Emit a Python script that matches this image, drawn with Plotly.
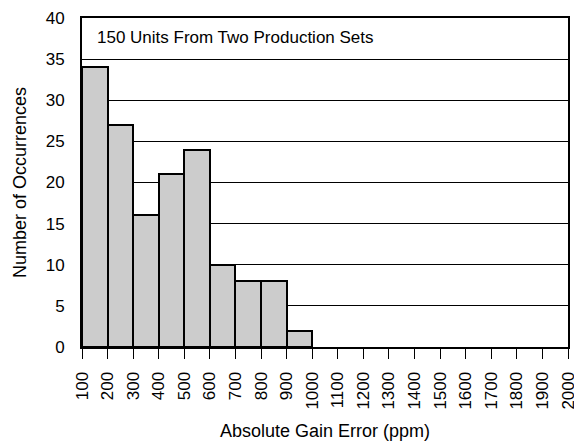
import plotly.graph_objects as go

bin_starts = [100, 200, 300, 400, 500, 600, 700, 800, 900]
counts = [34, 27, 16, 21, 24, 10, 8, 8, 2]
bin_width = 100
x_ticks = list(range(100, 2001, 100))
y_ticks = [0, 5, 10, 15, 20, 25, 30, 35, 40]

fig = go.Figure()
fig.add_trace(go.Bar(
    x=[s + bin_width / 2 for s in bin_starts],
    y=counts,
    width=[bin_width] * len(counts),
    marker=dict(color="#cccccc", line=dict(color="black", width=2)),
))

fam = "Liberation Sans, Arial, sans-serif"

fig.update_layout(
    width=574, height=433,
    margin=dict(l=74, r=14, t=10, b=94),
    plot_bgcolor="white", paper_bgcolor="white",
    font=dict(family=fam, size=17, color="black"),
    showlegend=False,
    bargap=0,
    xaxis=dict(
        range=[100, 2000],
        tickvals=x_ticks,
        ticktext=[str(v) for v in x_ticks],
        tickangle=-90,
        tickfont=dict(size=17),
        ticks="outside", ticklen=10, tickcolor="black", tickwidth=1,
        ticklabelstandoff=6,
        showgrid=False, zeroline=False,
        showline=True, linecolor="black", linewidth=2, mirror=True,
        automargin=False,
        title=dict(text="Absolute Gain Error (ppm)", standoff=16, font=dict(size=18)),
    ),
    yaxis=dict(
        range=[0, 40],
        tickvals=y_ticks,
        tickfont=dict(size=17),
        showgrid=True, gridcolor="black", gridwidth=1,
        zeroline=False,
        showline=True, linecolor="black", linewidth=2, mirror=True,
        ticks="", ticklabelstandoff=12,
        automargin=False,
        title=dict(text="Number of Occurrences", standoff=14, font=dict(size=18)),
    ),
    annotations=[dict(
        text="150 Units From Two Production Sets",
        xref="paper", yref="paper", x=0.0267, y=0.94,
        xanchor="left", yanchor="middle", showarrow=False,
        font=dict(family=fam, size=17, color="black"),
    )],
)

fig.write_html("out.html")
